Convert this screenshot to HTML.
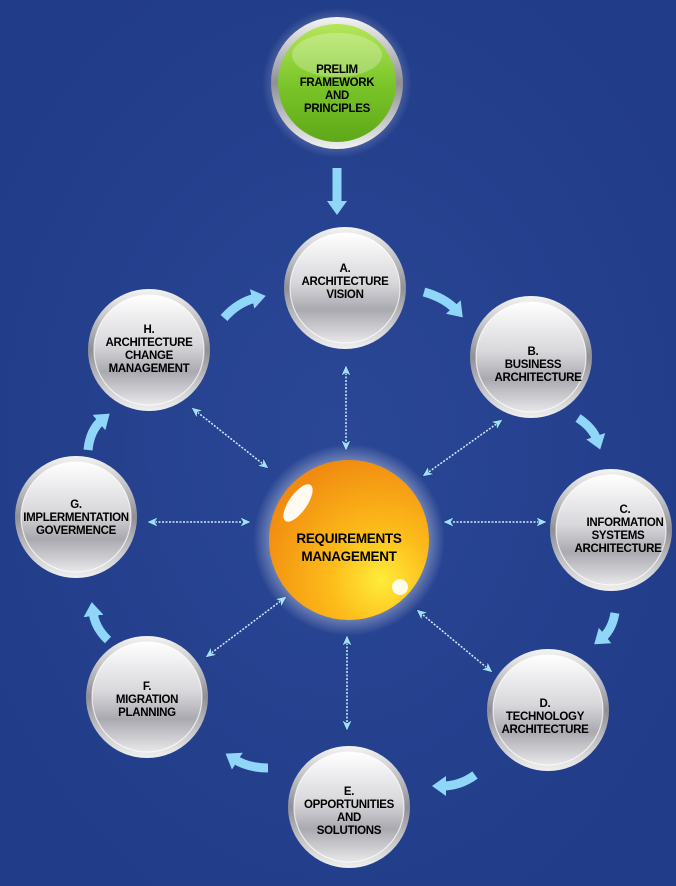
<!DOCTYPE html>
<html><head><meta charset="utf-8"><style>
html,body{margin:0;padding:0;background:#233f8c;}
svg{display:block}
text{font-family:"Liberation Sans",Arial,sans-serif;font-weight:bold;font-size:11.5px;fill:#000;text-anchor:middle;letter-spacing:-0.3px}
</style></head><body>
<svg width="676" height="886" viewBox="0 0 676 886" xmlns="http://www.w3.org/2000/svg">
<defs>
<radialGradient id="bg" cx="50%" cy="50%" r="60%"><stop offset="0" stop-color="#2a4796"/><stop offset="1" stop-color="#213c88"/></radialGradient>
<linearGradient id="silver" x1="0" y1="0" x2="0" y2="1">
<stop offset="0" stop-color="#ffffff"/><stop offset="0.45" stop-color="#d8d8dc"/><stop offset="0.7" stop-color="#a9a9b0"/><stop offset="1" stop-color="#e8e8ea"/></linearGradient>
<linearGradient id="rim" x1="0" y1="0" x2="0" y2="1"><stop offset="0" stop-color="#f4f4f4"/><stop offset="0.5" stop-color="#8f9096"/><stop offset="1" stop-color="#f0f0f0"/></linearGradient>
<linearGradient id="green" x1="0" y1="0" x2="0" y2="1"><stop offset="0" stop-color="#b5e65a"/><stop offset="0.5" stop-color="#7cc62a"/><stop offset="1" stop-color="#5ea81a"/></linearGradient>
<radialGradient id="orange" cx="70%" cy="75%" r="80%"><stop offset="0" stop-color="#ffec3a"/><stop offset="0.4" stop-color="#fdbb1a"/><stop offset="1" stop-color="#f08a10"/></radialGradient>
<radialGradient id="glow" cx="50%" cy="50%" r="50%"><stop offset="0.6" stop-color="#ffffff" stop-opacity="0.9"/><stop offset="1" stop-color="#ffffff" stop-opacity="0"/></radialGradient>
<marker id="hd" markerWidth="20" markerHeight="24" refX="4" refY="12" orient="auto" markerUnits="userSpaceOnUse"><path d="M0,2 L14,12 L0,22 z" fill="#8fd6f8"/></marker>
<marker id="sm" markerWidth="12" markerHeight="12" refX="10" refY="5" orient="auto" markerUnits="userSpaceOnUse"><path d="M0,0 L11,5 L0,10 L3,5 z" fill="#9fe0ff" stroke="#103060" stroke-width="0.5"/></marker>
<marker id="sms" markerWidth="12" markerHeight="12" refX="1" refY="5" orient="auto" markerUnits="userSpaceOnUse"><path d="M11,0 L0,5 L11,10 L8,5 z" fill="#9fe0ff" stroke="#103060" stroke-width="0.5"/></marker>
<g id="node"><circle r="61" fill="url(#rim)"/><circle r="55" fill="url(#silver)"/><circle r="55" fill="none" stroke="#fff" stroke-width="1.2" opacity="0.7"/></g>
</defs>
<rect width="676" height="886" fill="url(#bg)"/>

<g stroke="#d8e8ff" stroke-width="1.5" stroke-dasharray="2 1.5" fill="none" marker-start="url(#sms)" marker-end="url(#sm)">
<line x1="346" y1="366" x2="346" y2="450"/>
<line x1="502" y1="420" x2="423" y2="476"/>
<line x1="546" y1="522" x2="444" y2="522"/>
<line x1="492" y1="672" x2="417" y2="610"/>
<line x1="347" y1="636" x2="347" y2="730"/>
<line x1="206" y1="657" x2="286" y2="597"/>
<line x1="148" y1="522" x2="250" y2="522"/>
<line x1="192" y1="408" x2="268" y2="468"/>
</g>

<g fill="none" stroke="#8fd6f8" stroke-width="9" marker-end="url(#hd)">
<path d="M337 168 L337 205"/>
<path d="M424 292 Q445 298 456 310"/>
<path d="M578 418 Q593 428 597 440"/>
<path d="M615 613 Q612 630 602 638"/>
<path d="M475 775 Q460 786 442 786"/>
<path d="M268 768 Q248 768 234 759"/>
<path d="M108 640 Q95 628 93 612"/>
<path d="M88 450 Q90 430 102 420"/>
<path d="M224 318 Q238 302 256 298"/>
</g>

<circle cx="337" cy="83" r="75" fill="url(#glow)" opacity="0.5"/>
<circle cx="337" cy="83" r="66" fill="url(#rim)"/>
<circle cx="337" cy="83" r="59" fill="url(#green)"/>
<ellipse cx="337" cy="55" rx="45" ry="22" fill="#fff" opacity="0.25"/>
<text x="337" y="73">PRELIM</text><text x="337" y="86">FRAMEWORK</text><text x="337" y="99">AND</text><text x="337" y="112">PRINCIPLES</text>

<circle cx="349" cy="540" r="96" fill="url(#glow)" opacity="0.8"/>
<circle cx="349" cy="540" r="80" fill="url(#orange)"/>
<ellipse cx="298" cy="503" rx="9" ry="22" transform="rotate(35 298 503)" fill="#fff" opacity="0.95"/>
<circle cx="400" cy="587" r="8" fill="#fff" opacity="0.9"/>
<text x="349" y="543" style="font-size:13.5px">REQUIREMENTS</text>
<text x="349" y="561" style="font-size:13.5px">MANAGEMENT</text>

<use href="#node" x="345" y="288"/>
<text x="345" y="272">A.</text><text x="345" y="285">ARCHITECTURE</text><text x="345" y="298">VISION</text>
<use href="#node" x="531" y="357"/>
<text x="533" y="355">B.</text><text x="533" y="368">BUSINESS</text><text x="538" y="381">ARCHITECTURE</text>
<use href="#node" x="611" y="530"/>
<text x="625" y="513">C.</text><text x="625" y="526">INFORMATION</text><text x="618" y="539">SYSTEMS</text><text x="618" y="552">ARCHITECTURE</text>
<use href="#node" x="548" y="710"/>
<text x="545" y="707">D.</text><text x="545" y="720">TECHNOLOGY</text><text x="545" y="733">ARCHITECTURE</text>
<use href="#node" x="349" y="807"/>
<text x="349" y="795">E.</text><text x="349" y="808">OPPORTUNITIES</text><text x="349" y="821">AND</text><text x="349" y="834">SOLUTIONS</text>
<use href="#node" x="147" y="697"/>
<text x="147" y="690">F.</text><text x="147" y="703">MIGRATION</text><text x="147" y="716">PLANNING</text>
<use href="#node" x="76" y="517"/>
<text x="76" y="508">G.</text><text x="76" y="521">IMPLERMENTATION</text><text x="76" y="534">GOVERMENCE</text>
<use href="#node" x="149" y="350"/>
<text x="149" y="333">H.</text><text x="149" y="346">ARCHITECTURE</text><text x="149" y="359">CHANGE</text><text x="149" y="372">MANAGEMENT</text>
</svg>
</body></html>
